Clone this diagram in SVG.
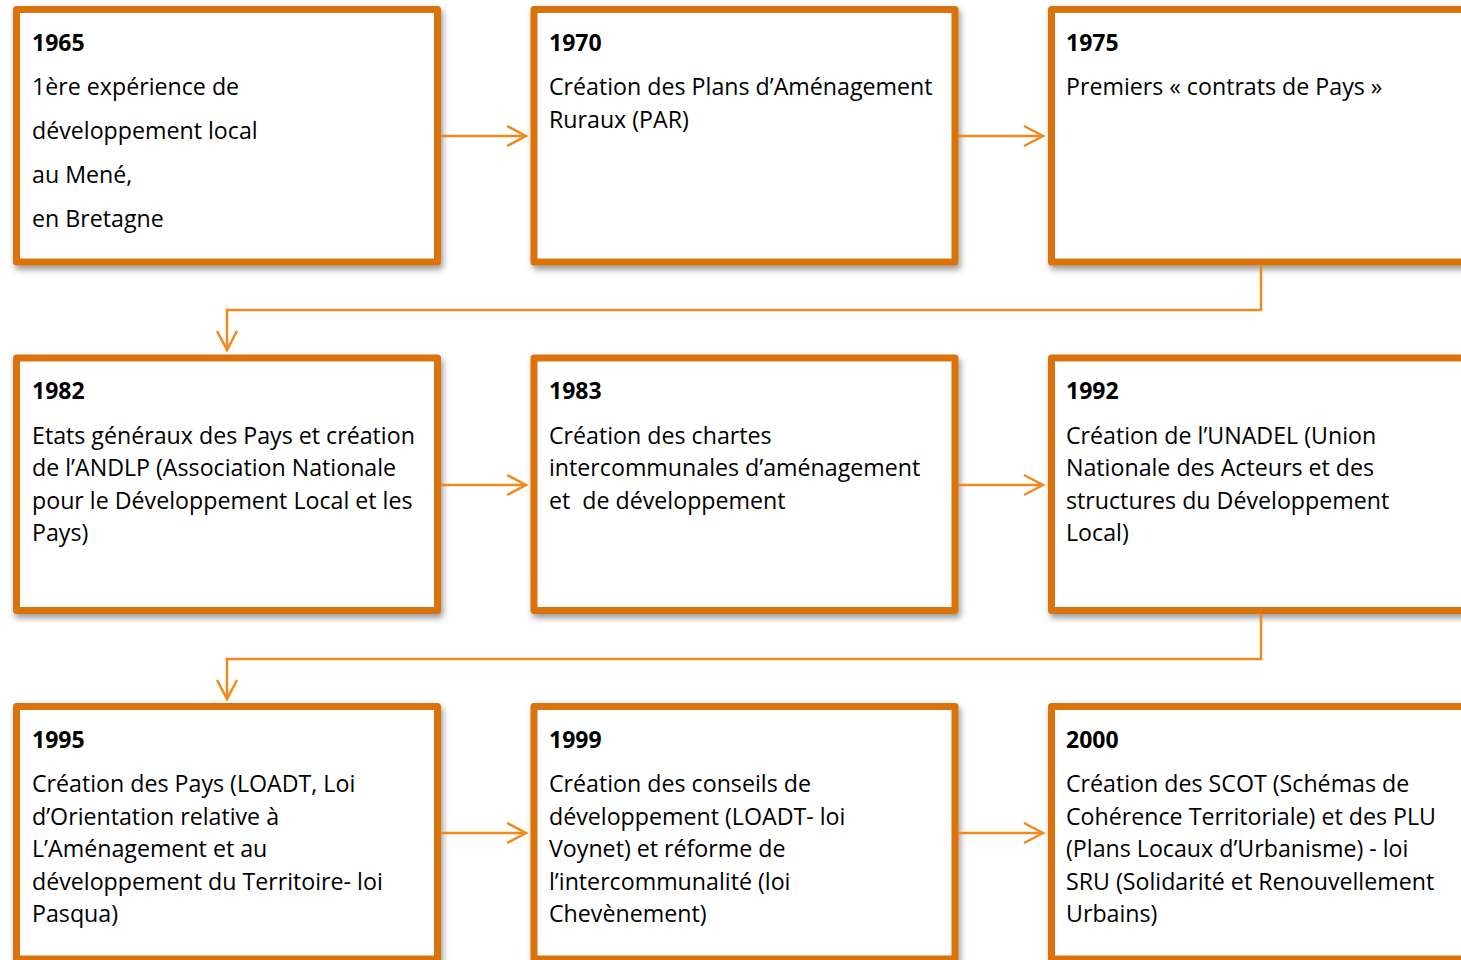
<svg xmlns="http://www.w3.org/2000/svg" width="1461" height="960" viewBox="0 0 1461 960">
  <style>
    .box { fill: #ffffff; stroke: #DB7309; stroke-width: 7; stroke-linejoin: round; filter: url(#sh); }
    .yr { font-family: "Open Sans", "Liberation Sans", sans-serif; font-weight: bold; font-size: 23px; fill: #000; }
    .tx { font-family: "Open Sans", "Liberation Sans", sans-serif; font-size: 23.2px; fill: #000; white-space: pre; }
    .con { fill: none; stroke: #F08A1F; stroke-width: 2.5; marker-end: url(#arr); }
  </style>
  <defs>
    <filter id="sh" x="-5%" y="-5%" width="115%" height="115%">
      <feDropShadow dx="2" dy="4" stdDeviation="3" flood-color="#000" flood-opacity="0.4"/>
    </filter>
    <marker id="arr" markerUnits="userSpaceOnUse" viewBox="-23 -12 26 24" markerWidth="26" markerHeight="24" refX="0" refY="0" orient="auto">
      <path d="M-19,-10 L0,0 L-19,10" fill="none" stroke="#F08A1F" stroke-width="2.5"/>
    </marker>
  </defs>
  <rect width="1461" height="960" fill="#ffffff"/>

  <g id="n1965">
    <rect class="box" x="16.5" y="9.5" width="421" height="252.5"/>
    <text class="yr" x="32" y="50.5">1965</text>
    <text class="tx" x="32" y="95">1ère expérience de</text>
    <text class="tx" x="32" y="139">développement local</text>
    <text class="tx" x="32" y="182.5">au Mené,</text>
    <text class="tx" x="32" y="226.5">en Bretagne</text>
  </g>
  <g id="n1970">
    <rect class="box" x="534" y="9.5" width="421" height="252.5"/>
    <text class="yr" x="549" y="50.5">1970</text>
    <text class="tx" x="549" y="95">Création des Plans d’Aménagement</text>
    <text class="tx" x="549" y="127.5">Ruraux (PAR)</text>
  </g>
  <g id="n1975">
    <rect class="box" x="1051.5" y="9.5" width="421" height="252.5"/>
    <text class="yr" x="1066" y="50.5">1975</text>
    <text class="tx" x="1066" y="95">Premiers « contrats de Pays »</text>
  </g>

  <g id="n1982">
    <rect class="box" x="16.5" y="358" width="421" height="252.5"/>
    <text class="yr" x="32" y="399">1982</text>
    <text class="tx" x="32" y="443.5">Etats généraux des Pays et création</text>
    <text class="tx" x="32" y="476">de l’ANDLP (Association Nationale</text>
    <text class="tx" x="32" y="508.5">pour le Développement Local et les</text>
    <text class="tx" x="32" y="541">Pays)</text>
  </g>
  <g id="n1983">
    <rect class="box" x="534" y="358" width="421" height="252.5"/>
    <text class="yr" x="549" y="399">1983</text>
    <text class="tx" x="549" y="443.5">Création des chartes</text>
    <text class="tx" x="549" y="476">intercommunales d’aménagement</text>
    <text class="tx" x="549" y="508.5" xml:space="preserve">et  de développement</text>
  </g>
  <g id="n1992">
    <rect class="box" x="1051.5" y="358" width="421" height="252.5"/>
    <text class="yr" x="1066" y="399">1992</text>
    <text class="tx" x="1066" y="443.5">Création de l’UNADEL (Union</text>
    <text class="tx" x="1066" y="476">Nationale des Acteurs et des</text>
    <text class="tx" x="1066" y="508.5">structures du Développement</text>
    <text class="tx" x="1066" y="541">Local)</text>
  </g>

  <g id="n1995">
    <rect class="box" x="16.5" y="706.5" width="421" height="252.5"/>
    <text class="yr" x="32" y="747.5">1995</text>
    <text class="tx" x="32" y="792">Création des Pays (LOADT, Loi</text>
    <text class="tx" x="32" y="824.5">d’Orientation relative à</text>
    <text class="tx" x="32" y="857">L’Aménagement et au</text>
    <text class="tx" x="32" y="889.5">développement du Territoire- loi</text>
    <text class="tx" x="32" y="922">Pasqua)</text>
  </g>
  <g id="n1999">
    <rect class="box" x="534" y="706.5" width="421" height="252.5"/>
    <text class="yr" x="549" y="747.5">1999</text>
    <text class="tx" x="549" y="792">Création des conseils de</text>
    <text class="tx" x="549" y="824.5">développement (LOADT- loi</text>
    <text class="tx" x="549" y="857">Voynet) et réforme de</text>
    <text class="tx" x="549" y="889.5">l’intercommunalité (loi</text>
    <text class="tx" x="549" y="922">Chevènement)</text>
  </g>
  <g id="n2000">
    <rect class="box" x="1051.5" y="706.5" width="421" height="252.5"/>
    <text class="yr" x="1066" y="747.5">2000</text>
    <text class="tx" x="1066" y="792">Création des SCOT (Schémas de</text>
    <text class="tx" x="1066" y="824.5">Cohérence Territoriale) et des PLU</text>
    <text class="tx" x="1066" y="857">(Plans Locaux d’Urbanisme) - loi</text>
    <text class="tx" x="1066" y="889.5">SRU (Solidarité et Renouvellement</text>
    <text class="tx" x="1066" y="922">Urbains)</text>
  </g>

  <g id="connectors">
    <path class="con" d="M441,136 H526"/>
    <path class="con" d="M958,136 H1043"/>
    <path class="con" d="M1261,266 V310 H227 V350"/>
    <path class="con" d="M441,485 H526"/>
    <path class="con" d="M958,485 H1043"/>
    <path class="con" d="M1261,614 V659 H227 V699"/>
    <path class="con" d="M441,833 H526"/>
    <path class="con" d="M958,833 H1043"/>
  </g>
</svg>
